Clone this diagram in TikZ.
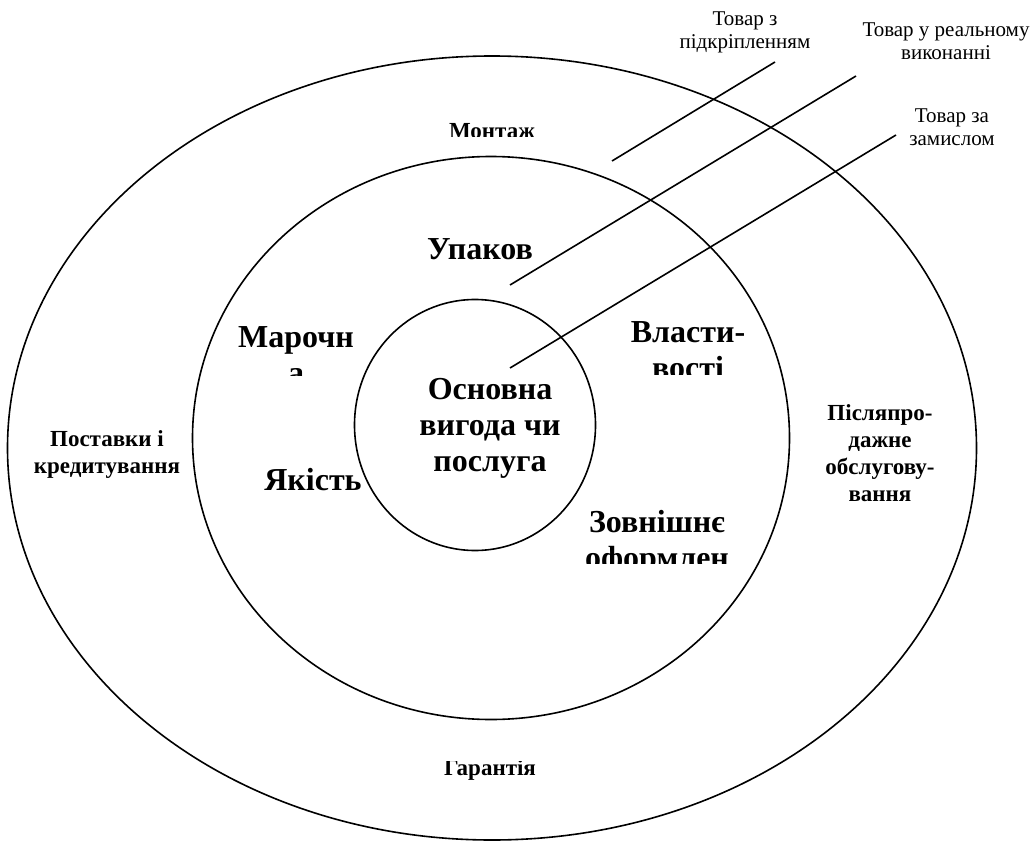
\documentclass[tikz,border=0pt]{standalone}
\usepackage{fontspec}
\setmainfont{Liberation Serif}
\usetikzlibrary{shapes.geometric}

\begin{document}
\begin{tikzpicture}[
 x=1pt,y=-1pt,
 ring/.style={draw,ellipse,line width=1.6pt,inner sep=0pt},
 lead/.style={line width=1.6pt},
 tag/.style={align=center,inner sep=0pt,font=\fontsize{21}{23}\selectfont},
 rim/.style={align=center,inner sep=0pt,font=\fontsize{23}{27}\selectfont\bfseries},
 core/.style={align=center,inner sep=0pt,font=\fontsize{32}{36}\selectfont\bfseries}
]
\useasboundingbox (0,0) rectangle (1035,842);

% three levels of the product
\node[ring,minimum width=969pt,minimum height=784pt] (outer) at (492,448) {};
\node[ring,minimum width=597pt,minimum height=563pt] (middle) at (491,438) {};
\node[ring,minimum width=241pt,minimum height=251pt] (inner) at (475,425) {};

% level captions
\node[tag] (augm) at (745,32) {Товар з\\підкріпленням};
\node[tag] (real) at (946,41) {Товар у реальному\\виконанні};
\node[tag] (idea) at (952,127) {Товар за\\замислом};

\coordinate (l1a) at (612,161);
\coordinate (l1b) at (775,62);
\coordinate (l2a) at (510,285);
\coordinate (l2b) at (856,76);
\coordinate (l3a) at (510,368);
\coordinate (l3b) at (896,135);
\draw[lead] (l1a) -- (l1b);
\draw[lead] (l2a) -- (l2b);
\draw[lead] (l3a) -- (l3b);

% core
\node[core] (benefit) at (490,428) {Основна\\вигода чи\\послуга};

% actual product
\node[core] (pack) at (480,249) {Упаков};
\node[core] (quality) at (313,480) {Якість};
\begin{scope}
 \clip (200,300) rectangle (400,375);
 \node[core] (brand) at (296,355) {Марочн\\а};
\end{scope}
\begin{scope}
 \clip (600,300) rectangle (780,374);
 \node[core] (props) at (688,350) {Власти-\\вості};
\end{scope}
\begin{scope}
 \clip (560,490) rectangle (780,563);
 \node[core] (look) at (657,543) {Зовнішнє\\оформлен};
\end{scope}

% augmented product
\begin{scope}
 \clip (380,100) rectangle (600,137);
 \node[rim] (mount) at (492,131) {Монтаж};
\end{scope}
\begin{scope}
 \clip (380,761) rectangle (600,800);
 \node[rim] (warranty) at (490,770) {Гарантія};
\end{scope}
\node[rim] (supply) at (107,454) {Поставки і\\кредитування};
\node[rim] (service) at (880,453) {Післяпро-\\дажне\\обслугову-\\вання};
\end{tikzpicture}
\end{document}
